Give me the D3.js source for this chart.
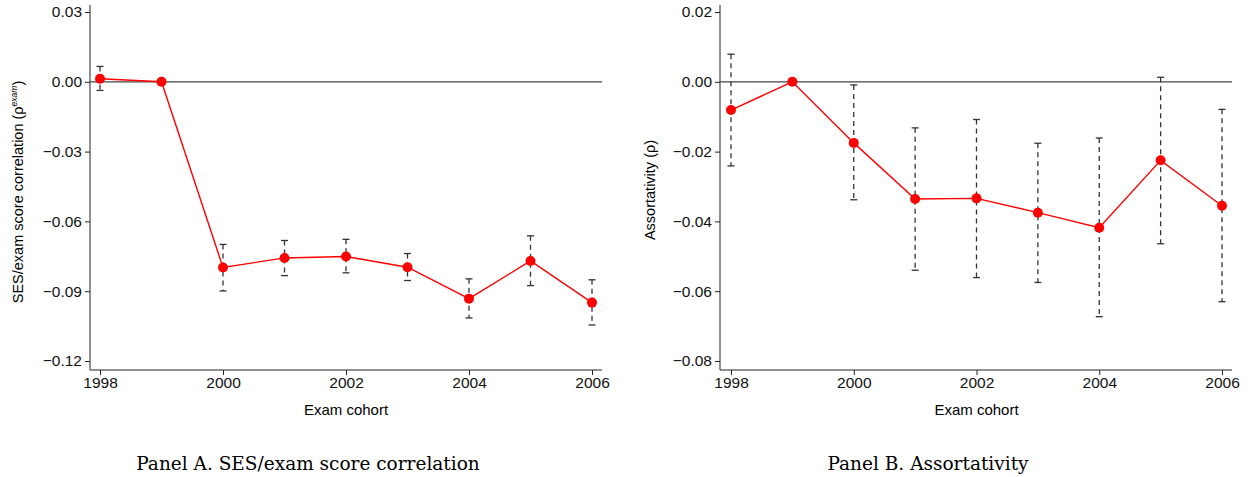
<!DOCTYPE html>
<html>
<head>
<meta charset="utf-8">
<script src="https://cdn.jsdelivr.net/npm/d3@7"></script>
<style>
  html, body { margin: 0; padding: 0; background: #fff; }
  svg { display: block; }
</style>
</head>
<body>
<svg id="chart" width="1251" height="477"></svg>
<script>
// ---- Data ----
const years = [1998, 1999, 2000, 2001, 2002, 2003, 2004, 2005, 2006];
const xTicks = [1998, 2000, 2002, 2004, 2006];

// Panel A: SES/exam score correlation
const corrEst   = [0.0013, 0.0000, -0.0798, -0.0757, -0.0751, -0.0797, -0.0932, -0.0770, -0.0949];
const corrLow   = [-0.0037, null, -0.0899, -0.0833, -0.0821, -0.0854, -0.1015, -0.0876, -0.1045];
const corrHigh  = [0.0066, null, -0.0699, -0.0682, -0.0677, -0.0738, -0.0847, -0.0662, -0.0851];
const corrTicks = [0.03, 0.00, -0.03, -0.06, -0.09, -0.12];

// Panel B: Assortativity
const assortEst  = [-0.0081, 0.0000, -0.0175, -0.0336, -0.0334, -0.0375, -0.0418, -0.0225, -0.0355];
const assortLow  = [-0.0241, null, -0.0338, -0.0540, -0.0561, -0.0575, -0.0673, -0.0464, -0.0630];
const assortHigh = [0.0079, null, -0.0009, -0.0132, -0.0108, -0.0176, -0.0161, 0.0013, -0.0079];
const assortTicks = [0.02, 0.00, -0.02, -0.04, -0.06, -0.08];

const svg = d3.select("#chart");

function panel(cfg) {
  const g = svg.append("g");
  const x = d3.scaleLinear().domain([1998, 2006]).range([cfg.x0, cfg.x1]);
  const y = d3.scaleLinear().domain([cfg.yTop, cfg.yBot]).range([12, 361]);

  // axes
  const yAxis = d3.axisLeft(y).tickValues(cfg.yTicks).tickSize(5).tickPadding(3)
    .tickFormat(d => d3.format(cfg.fmt)(d).replace("-", "\u2212"));
  const ya = g.append("g").attr("transform", `translate(${cfg.axisX},0)`).call(yAxis);
  ya.select(".domain").attr("d", `M0,5V370`);
  const xAxis = d3.axisBottom(x).tickValues(xTicks).tickSize(5).tickPadding(2).tickFormat(d3.format("d"));
  const xa = g.append("g").attr("transform", `translate(0,370)`).call(xAxis);
  xa.select(".domain").attr("d", `M${cfg.axisX},0H${cfg.axisEnd}`);
  g.selectAll(".domain, .tick line").attr("stroke", "#222").attr("stroke-width", 1);
  g.selectAll(".tick text")
    .style("font-family", "Liberation Sans, Arial, sans-serif")
    .style("font-size", "15.5px").attr("fill", "#111");

  // zero line
  g.append("line")
    .attr("x1", cfg.axisX).attr("x2", cfg.axisEnd)
    .attr("y1", y(0)).attr("y2", y(0))
    .attr("stroke", "#444").attr("stroke-width", 1.2);

  // error bars
  const idx = d3.range(years.length).filter(i => cfg.low[i] !== null);
  const eb = g.append("g").attr("stroke", "#333").attr("stroke-width", 1.3);
  eb.selectAll("line.v").data(idx).join("line").attr("class", "v")
    .attr("x1", i => x(years[i])).attr("x2", i => x(years[i]))
    .attr("y1", i => y(cfg.high[i])).attr("y2", i => y(cfg.low[i]))
    .attr("stroke-dasharray", "5,4");
  eb.selectAll("line.ct").data(idx).join("line").attr("class", "ct")
    .attr("x1", i => x(years[i]) - 3.5).attr("x2", i => x(years[i]) + 3.5)
    .attr("y1", i => y(cfg.high[i])).attr("y2", i => y(cfg.high[i]));
  eb.selectAll("line.cb").data(idx).join("line").attr("class", "cb")
    .attr("x1", i => x(years[i]) - 3.5).attr("x2", i => x(years[i]) + 3.5)
    .attr("y1", i => y(cfg.low[i])).attr("y2", i => y(cfg.low[i]));

  // line + markers
  const line = d3.line().x((d, i) => x(years[i])).y(d => y(d));
  g.append("path").datum(cfg.est).attr("d", line)
    .attr("fill", "none").attr("stroke", "#ff0000").attr("stroke-width", 1.4);
  g.selectAll("circle").data(cfg.est).join("circle")
    .attr("cx", (d, i) => x(years[i])).attr("cy", d => y(d)).attr("r", 5)
    .attr("fill", "#ff0000");

  // x label
  g.append("text").attr("x", (cfg.x0 + cfg.x1) / 2).attr("y", 415)
    .attr("text-anchor", "middle")
    .style("font-family", "Liberation Sans, Arial, sans-serif").style("font-size", "15px")
    .text("Exam cohort");

  // panel title
  g.append("text").attr("x", cfg.titleX).attr("y", 470)
    .attr("text-anchor", "middle")
    .style("font-family", "DejaVu Serif, Liberation Serif, serif").style("font-size", "18.5px")
    .text(cfg.title);
  return {g, y};
}

const A = panel({
  x0: 100, x1: 592, axisX: 90, axisEnd: 602,
  yTop: 0.03, yBot: -0.12, yTicks: corrTicks, fmt: ".2f",
  est: corrEst, low: corrLow, high: corrHigh,
  title: "Panel A. SES/exam score correlation", titleX: 308
});
const B = panel({
  x0: 731, x1: 1222, axisX: 720, axisEnd: 1232,
  yTop: 0.02, yBot: -0.08, yTicks: assortTicks, fmt: ".2f",
  est: assortEst, low: assortLow, high: assortHigh,
  title: "Panel B. Assortativity", titleX: 928
});

// y labels
const ylA = svg.append("text")
  .attr("transform", "translate(23,192) rotate(-90)")
  .attr("text-anchor", "middle")
  .style("font-family", "Liberation Sans, Arial, sans-serif").style("font-size", "14.5px");
ylA.append("tspan").text("SES/exam score correlation (\u03C1");
ylA.append("tspan").attr("dy", -6).style("font-size", "8.5px").style("font-style", "italic").text("exam");
ylA.append("tspan").attr("dy", 6).text(")");

svg.append("text")
  .attr("transform", "translate(655,190) rotate(-90)")
  .attr("text-anchor", "middle")
  .style("font-family", "Liberation Sans, Arial, sans-serif").style("font-size", "14.5px")
  .text("Assortativity (\u03C1)");
</script>
</body>
</html>
